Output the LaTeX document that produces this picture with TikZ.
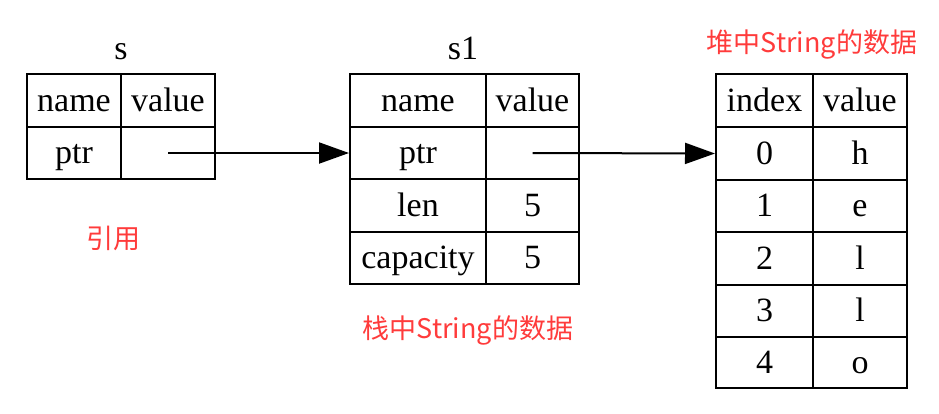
\documentclass[tikz,border=0pt]{standalone}
\usepackage{fontspec}
\setmainfont{Liberation Serif}
\newfontfamily\cjkfont{Noto Sans CJK SC}
\usetikzlibrary{arrows.meta}
\definecolor{lblred}{HTML}{FF3B3B}
\begin{document}
\begin{tikzpicture}[x=1pt,y=-1pt,
  cell/.style={draw, line width=2pt, inner sep=0pt, font=\fontsize{34}{40}\selectfont,
     text height=27pt, text depth=6pt, anchor=center},
  title/.style={font=\fontsize{34}{40}\selectfont, inner sep=0pt, anchor=base},
  redlbl/.style={font=\cjkfont\fontsize{27}{32}\selectfont, text=lblred, inner sep=0pt},
  ptrarrow/.style={line width=2pt, -{Triangle[length=30pt,width=21pt]}}]
\useasboundingbox (0,0) rectangle (939,413);
% table s
\node[cell, minimum width=94pt, minimum height=53pt] (sh1) at (74,100.5) {name};
\node[cell, minimum width=94pt, minimum height=53pt] (sh2) at (168,100.5) {value};
\node[cell, minimum width=94pt, minimum height=52pt] (sptr) at (74,153) {ptr};
\node[cell, minimum width=94pt, minimum height=52pt] (sptrv) at (168,153) {};
\node[title] (stitle) at (121,59) {s};
% table s1
\node[cell, minimum width=136pt, minimum height=53pt] (ah1) at (418,100.5) {name};
\node[cell, minimum width=93pt, minimum height=53pt] (ah2) at (532.5,100.5) {value};
\node[cell, minimum width=136pt, minimum height=52pt] (aptr) at (418,153) {ptr};
\node[cell, minimum width=93pt, minimum height=52pt] (aptrv) at (532.5,153) {};
\node[cell, minimum width=136pt, minimum height=53pt] (alen) at (418,205.5) {len};
\node[cell, minimum width=93pt, minimum height=53pt] (alenv) at (532.5,205.5) {5};
\node[cell, minimum width=136pt, minimum height=52pt] (acap) at (418,258) {capacity};
\node[cell, minimum width=93pt, minimum height=52pt] (acapv) at (532.5,258) {5};
\node[title] (atitle) at (463,59) {s1};
% heap table
\node[cell, minimum width=97pt, minimum height=53pt] (hh1) at (764.5,100.5) {index};
\node[cell, minimum width=94pt, minimum height=53pt] (hh2) at (860,100.5) {value};
\node[cell, minimum width=97pt, minimum height=53pt] (h0) at (764.5,153.5) {0};
\node[cell, minimum width=94pt, minimum height=53pt] (h0v) at (860,153.5) {h};
\node[cell, minimum width=97pt, minimum height=52pt] (h1) at (764.5,206) {1};
\node[cell, minimum width=94pt, minimum height=52pt] (h1v) at (860,206) {e};
\node[cell, minimum width=97pt, minimum height=53pt] (h2) at (764.5,258.5) {2};
\node[cell, minimum width=94pt, minimum height=53pt] (h2v) at (860,258.5) {l};
\node[cell, minimum width=97pt, minimum height=52pt] (h3) at (764.5,311) {3};
\node[cell, minimum width=94pt, minimum height=52pt] (h3v) at (860,311) {l};
\node[cell, minimum width=97pt, minimum height=51pt] (h4) at (764.5,362.5) {4};
\node[cell, minimum width=94pt, minimum height=51pt] (h4v) at (860,362.5) {o};
% red labels
\node[redlbl] (lref) at (113.5,238) {引用};
\node[redlbl] (lstack) at (468,330) {栈中String的数据};
\node[redlbl] (lheap) at (812,44.5) {堆中String的数据};
% arrows
\draw[ptrarrow] (sptrv.center) -- (aptr.west);
\draw[ptrarrow] (aptrv.center) -- (h0.west);
\end{tikzpicture}
\end{document}
